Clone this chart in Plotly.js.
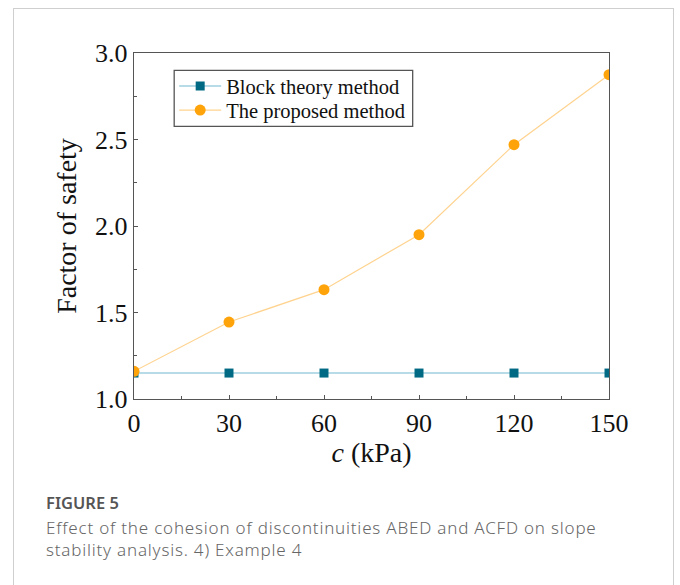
<!DOCTYPE html>
<html>
<head>
<meta charset="utf-8">
<script src="https://cdn.plot.ly/plotly-3.0.1.min.js"></script>
<style>
  html, body { margin: 0; padding: 0; background: #fff; }
  #wrap { position: relative; width: 680px; height: 585px; overflow: hidden; }
  #card { position: absolute; left: 13px; top: 8px; width: 661px; height: 620px; border: 1px solid #cfcfcf; box-sizing: border-box; }
  #chart { position: absolute; left: 0; top: 0; width: 680px; height: 585px; }
  #cap { position: absolute; left: 46px; top: 492px; width: 620px; font-family: "Noto Sans", "Open Sans", sans-serif; color: #666; }
  #cap .h { font-size: 16.5px; font-weight: 600; color: #555; line-height: 22px; }
  #cap .t { font-size: 17px; line-height: 22px; font-weight: 300; margin-top: 3px; letter-spacing: 0.8px; white-space: nowrap; }
</style>
</head>
<body>
<div id="wrap">
  <div id="card"></div>
  <div id="chart"></div>
  <div id="cap">
    <div class="h">FIGURE 5</div>
    <div class="t">Effect of the cohesion of discontinuities ABED and ACFD on slope<br>stability analysis. 4) Example 4</div>
  </div>
</div>
<script>
const cohesion = [0, 30, 60, 90, 120, 150];
const blockTheory = [1.15, 1.15, 1.15, 1.15, 1.15, 1.15];
const proposed = [1.16, 1.445, 1.632, 1.95, 2.47, 2.875];
const seriesNames = ["Block theory method", "The proposed method"];

const serif = "Liberation Serif, Times New Roman, serif";

const traces = [
  {
    x: cohesion, y: blockTheory, name: seriesNames[0], type: "scatter", mode: "lines+markers",
    line: { color: "#9fd0df", width: 1.5 },
    marker: { symbol: "square", size: 9, color: "#006a84" },
    legend: "legend"
  },
  {
    x: cohesion, y: proposed, name: seriesNames[1], type: "scatter", mode: "lines+markers",
    line: { color: "#ffd38f", width: 1.2 },
    marker: { symbol: "circle", size: 11, color: "#ffa30a" },
    legend: "legend2"
  }
];

const axisCommon = {
  showline: true, linecolor: "#555", linewidth: 1.3, mirror: true,
  ticks: "inside", ticklen: 4, tickcolor: "#555", tickwidth: 1,
  showgrid: false, zeroline: false,
  tickfont: { family: serif, size: 26, color: "#111" }
};

const legendCommon = {
  xanchor: "left", yanchor: "middle",
  borderwidth: 0, bgcolor: "rgba(0,0,0,0)",
  font: { family: serif, size: 20.5, color: "#111" },
  itemwidth: 42
};

const layout = {
  width: 680, height: 585,
  paper_bgcolor: "rgba(0,0,0,0)", plot_bgcolor: "rgba(0,0,0,0)",
  margin: { l: 134, r: 71, t: 53, b: 186 },
  showlegend: true,
  legend: Object.assign({}, legendCommon, { x: 0.0846, y: 0.904 }),
  legend2: Object.assign({}, legendCommon, { x: 0.0846, y: 0.8345 }),
  shapes: [{
    type: "rect", xref: "paper", yref: "paper",
    x0: 0.0846, x1: 0.5867, y0: 0.788, y1: 0.950,
    line: { color: "#555", width: 1.3 }, fillcolor: "#fff", layer: "above"
  }],
  xaxis: Object.assign({}, axisCommon, {
    range: [0, 150], dtick: 30, tick0: 0,
    minor: { dtick: 15, ticks: "inside", ticklen: 3, tickcolor: "#555" },
    title: { text: "<i>c</i> (kPa)", font: { family: serif, size: 28, color: "#111" }, standoff: 0 }
  }),
  yaxis: Object.assign({}, axisCommon, {
    range: [1, 3], dtick: 0.5, tick0: 1, tickformat: ".1f",
    minor: { dtick: 0.25, ticks: "inside", ticklen: 3, tickcolor: "#555" },
    title: { text: "Factor of safety", font: { family: serif, size: 28, color: "#111" }, standoff: 10 }
  })
};

Plotly.newPlot("chart", traces, layout, { displayModeBar: false, staticPlot: true });
</script>
</body>
</html>
